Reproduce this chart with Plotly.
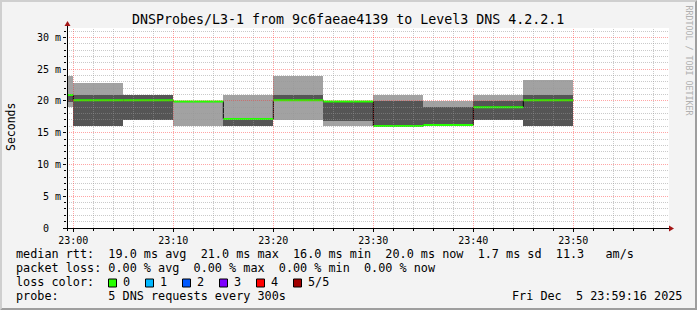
import plotly.graph_objects as go
from datetime import datetime, timedelta

# ---------------- data ----------------
DAY = "2025-12-05"
bin_start = ["22:55", "23:00", "23:05", "23:10", "23:15", "23:20",
             "23:25", "23:30", "23:35", "23:40", "23:45"]
BIN_SECONDS = 300
ping_max = [24.0, 22.9, 21.0, 20.0, 21.0, 23.85, 19.9, 21.0, 20.05, 21.0, 23.35]
ping_hi  = [20.95, 21.0, 21.0, 19.9, 17.15, 21.0, 19.9, 19.95, 19.0, 20.05, 21.0]
median   = [20.95, 20.1, 20.1, 19.9, 17.15, 20.1, 19.9, 16.05, 16.2, 19.0, 20.1]
ping_lo  = [19.9, 16.0, 17.05, 19.9, 16.1, 20.1, 16.9, 16.0, 16.2, 16.95, 16.1]
ping_min = [19.0, 16.0, 17.05, 16.0, 16.1, 17.05, 16.0, 16.0, 16.2, 16.95, 16.1]
loss     = [0, 0, 0, 0, 0, 0, 0, 0, 0, 0, 0]

loss_labels = ["0", "1", "2", "3", "4", "5/5"]
loss_colors = ["#26ff00", "#00b8ff", "#0059ff", "#7e00ff", "#ff0000", "#a10000"]

y_tick_vals = [0, 5, 10, 15, 20, 25, 30]
y_tick_text = ["0\u00a0\u00a0", "5 m", "10 m", "15 m", "20 m", "25 m", "30 m"]

rtt_stats = {"avg": 19.0, "max": 21.0, "min": 16.0, "now": 20.0}
rtt_sd = 1.7
rtt_ams = 11.3
loss_stats = {"avg": 0.00, "max": 0.00, "min": 0.00, "now": 0.00}

title_text = "DNSProbes/L3-1 from 9c6faeae4139 to Level3 DNS 4.2.2.1"
probe_text = "5 DNS requests every 300s"
stamp_text = "Fri Dec  5 23:59:16 2025"
x_range = [f"{DAY} 22:59:22.2", f"{DAY} 23:59:34.2"]
y_max = 31.48

# ---------------- geometry helpers ----------------
W_IMG, H_IMG = 697, 310
L, T, PW, PH = 67, 28, 602, 200
MONO = "DejaVu Sans Mono"
NB = "\u00a0"


def px(x):
    return (x - L) / PW


def py(y):
    return (T + PH - y) / PH


starts = [datetime.fromisoformat(f"{DAY} {s}") for s in bin_start]
ends = [s + timedelta(seconds=BIN_SECONDS) for s in starts]
x0 = datetime.fromisoformat(x_range[0])
x1 = datetime.fromisoformat(x_range[1])

fig = go.Figure()

# smoke: outer (light) and inner (dark)
fig.add_trace(go.Bar(
    x=starts, base=ping_min, y=[a - b for a, b in zip(ping_max, ping_min)],
    width=BIN_SECONDS * 1000, offset=0,
    marker=dict(color="#a2a2a2", line=dict(width=0)),
    hoverinfo="skip", showlegend=False))
fig.add_trace(go.Bar(
    x=starts, base=ping_lo, y=[a - b for a, b in zip(ping_hi, ping_lo)],
    width=BIN_SECONDS * 1000, offset=0,
    marker=dict(color="#555555", line=dict(width=0)),
    hoverinfo="skip", showlegend=False))

# median black step line
fig.add_trace(go.Scatter(
    x=starts + [ends[-1]], y=median + [median[-1]],
    mode="lines", line=dict(color="black", width=1, shape="hv"),
    hoverinfo="skip", showlegend=False))

# median coloured by loss
for lvl, col in enumerate(loss_colors):
    xs, ys = [], []
    for s, e, m, l in zip(starts, ends, median, loss):
        if l == lvl:
            xs += [s, e, None]
            ys += [m, m, None]
    if xs:
        fig.add_trace(go.Scatter(
            x=xs, y=ys, mode="lines", line=dict(color=col, width=2),
            hoverinfo="skip", showlegend=False))

shapes = []

# grid on top of the smoke
span = (x1 - x0).total_seconds()
for k in range(1, 32):
    p = T + PH - k * PH / y_max
    yc = int(p) + 0.5
    major = (k % 5 == 0)
    shapes.append(dict(type="line", xref="paper", yref="paper",
                       x0=0, x1=px(669), y0=py(yc), y1=py(yc),
                       line=dict(color="rgba(255,40,40,0.42)" if major else "rgba(150,150,150,0.5)",
                                 width=1, dash="1px,1px"), layer="above"))
for m in range(0, 60, 2):
    t = datetime.fromisoformat(f"{DAY} 23:00") + timedelta(minutes=m)
    p = L + (t - x0).total_seconds() / span * PW
    xc = int(p) + 0.5
    major = (m % 10 == 0)
    shapes.append(dict(type="line", xref="paper", yref="paper",
                       x0=px(xc), x1=px(xc), y0=py(228), y1=py(T),
                       line=dict(color="rgba(255,40,40,0.42)" if major else "rgba(150,150,150,0.5)",
                                 width=1, dash="1px,1px"), layer="above"))

# axes lines + arrows
shapes.append(dict(type="line", xref="paper", yref="paper",
                   x0=px(63), x1=px(670), y0=py(228.5), y1=py(228.5),
                   line=dict(color="black", width=1), layer="above"))
shapes.append(dict(type="line", xref="paper", yref="paper",
                   x0=px(67.5), x1=px(67.5), y0=py(231), y1=py(25),
                   line=dict(color="black", width=1), layer="above"))
ARROW = "#a31515"
shapes.append(dict(type="path", xref="paper", yref="paper",
                   path=f"M {px(64.5)},{py(26)} L {px(70.5)},{py(26)} L {px(67.5)},{py(21)} Z",
                   fillcolor=ARROW, line=dict(width=0), layer="above"))
shapes.append(dict(type="path", xref="paper", yref="paper",
                   path=f"M {px(669)},{py(225.5)} L {px(669)},{py(231.5)} L {px(674)},{py(228.5)} Z",
                   fillcolor=ARROW, line=dict(width=0), layer="above"))

# 3D frame
def P(x, y):
    return f"{px(x)},{py(y)}"

shapes.append(dict(type="path", xref="paper", yref="paper",
                   path=f"M {P(0,0)} L {P(697,0)} L {P(695,2)} L {P(2,2)} L {P(2,308)} L {P(0,310)} Z",
                   fillcolor="#cfcfcf", line=dict(width=0), layer="above"))
shapes.append(dict(type="path", xref="paper", yref="paper",
                   path=f"M {P(697,310)} L {P(0,310)} L {P(2,308)} L {P(695,308)} L {P(695,2)} L {P(697,0)} Z",
                   fillcolor="#9e9e9e", line=dict(width=0), layer="above"))

# loss colour swatches
sw_x = [108.5, 145.5, 182.5, 219.5, 256.5, 293.5]
for xs_, col in zip(sw_x, loss_colors):
    shapes.append(dict(type="rect", xref="paper", yref="paper",
                       x0=px(xs_), x1=px(xs_ + 8), y0=py(287), y1=py(279),
                       fillcolor=col, line=dict(color="black", width=1), layer="above"))

annotations = []


def text(x, y, s, size=11.8, xanchor="left", color="black", angle=0):
    annotations.append(dict(x=px(x), y=py(y), xref="paper", yref="paper",
                            text=s, showarrow=False, xanchor=xanchor, yanchor="middle",
                            textangle=angle, borderpad=0, borderwidth=0,
                            font=dict(family=MONO, size=size, color=color)))


def fmt(parts):
    return (NB * 2).join(parts)


text(348, 19.5, title_text, size=13.3, xanchor="center")

row1 = ("median rtt:" + NB * 2 +
        fmt([f"{rtt_stats['avg']:.1f} ms avg", f"{rtt_stats['max']:.1f} ms max",
             f"{rtt_stats['min']:.1f} ms min", f"{rtt_stats['now']:.1f} ms now",
             f"{rtt_sd:.1f} ms sd", f"{rtt_ams:.1f}"]) + NB * 3 + "am/s")
row2 = ("packet loss:" + NB +
        fmt([f"{loss_stats['avg']:.2f} % avg", f"{loss_stats['max']:.2f} % max",
             f"{loss_stats['min']:.2f} % min", f"{loss_stats['now']:.2f} % now"]))
text(15.5, 254, row1.replace(" ", NB))
text(15.5, 268.3, row2.replace(" ", NB))
text(15.5, 282.3, "loss color:".replace(" ", NB))
for xs_, lab in zip(sw_x, loss_labels):
    text(xs_ + 14.5, 282.3, lab)
text(15.5, 296, "probe:" + NB * 7 + probe_text.replace(" ", NB))
text(681.5, 296, stamp_text.replace(" ", NB), xanchor="right")

text(11, 127, "Seconds", size=11.5, xanchor="center", angle=-90)
text(688.5, 60, "RRDTOOL / TOBI OETIKER".replace(" ", NB), size=8.3, xanchor="center",
     angle=90, color="#b0b0b0")

fig.update_layout(
    width=W_IMG, height=H_IMG,
    margin=dict(l=L, r=W_IMG - L - PW, t=T, b=H_IMG - T - PH, pad=0),
    paper_bgcolor="#f3f3f3", plot_bgcolor="white",
    barmode="overlay", bargap=0,
    showlegend=False,
    shapes=shapes, annotations=annotations,
    font=dict(family=MONO, size=10, color="black"),
)
fig.update_xaxes(
    type="date", range=x_range, showgrid=False, zeroline=False, showline=False,
    tickmode="linear", tick0=f"{DAY} 23:00", dtick=600000, tickformat="%H:%M",
    ticks="outside", ticklen=3, tickcolor="black", tickwidth=1,
    tickfont=dict(family=MONO, size=10, color="black"),
    minor=dict(tick0=f"{DAY} 23:00", dtick=120000, ticks="outside", ticklen=2,
               tickcolor="black", showgrid=False),
    fixedrange=True,
)
fig.update_yaxes(
    range=[0, y_max], showgrid=False, zeroline=False, showline=False,
    tickmode="array", tickvals=y_tick_vals, ticktext=y_tick_text,
    ticks="outside", ticklen=3, tickcolor="black", tickwidth=1,
    tickfont=dict(family=MONO, size=10, color="black"),
    minor=dict(dtick=1, ticks="outside", ticklen=2, tickcolor="black", showgrid=False),
    fixedrange=True,
)

fig.write_html("out.html", config={"displayModeBar": False})
